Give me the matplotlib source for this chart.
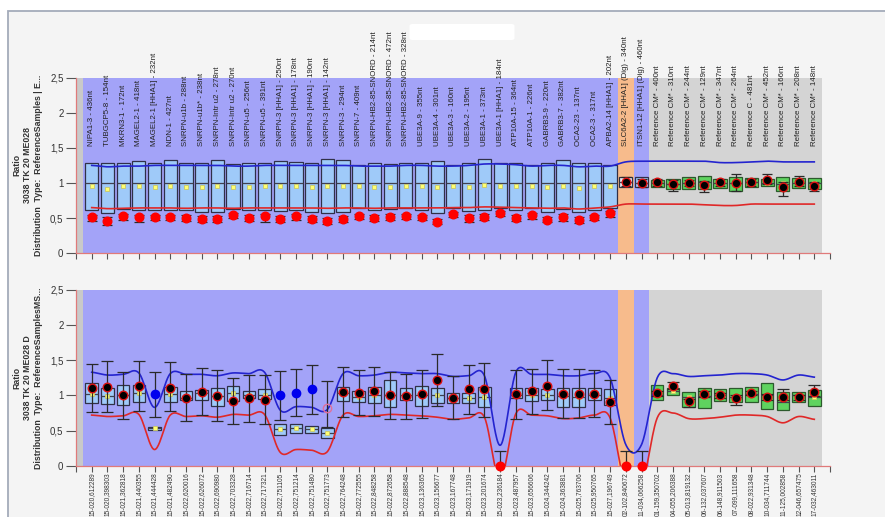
import numpy as np
import matplotlib
matplotlib.use("Agg")
import matplotlib.pyplot as plt
from matplotlib.patches import Rectangle, FancyBboxPatch

plt.rcParams['font.family'] = ['Liberation Sans', 'DejaVu Sans']

# ---------------- data ----------------
probe_names = [
    "NIPA1-3 - 436nt", "TUBGCP5-8 - 154nt", "MKRN3-1 - 172nt", "MAGEL2-1 - 418nt",
    "MAGEL2-1 [HHA1] - 232nt", "NDN-1 - 427nt", "SNRPN-u1b - 288nt", "SNRPN-u1b* - 238nt",
    "SNRPN-Intr u2 - 278nt", "SNRPN-Intr u2 - 270nt", "SNRPN-u5 - 256nt", "SNRPN-u5 - 391nt",
    "SNRPN-3 [HHA1] - 250nt", "SNRPN-3 [HHA1] - 178nt", "SNRPN-3 [HHA1] - 190nt",
    "SNRPN-3 [HHA1] - 142nt", "SNRPN-3 - 294nt", "SNRPN-7 - 409nt",
    "SNRPN-HB2-85-SNORD - 214nt", "SNRPN-HB2-85-SNORD - 472nt", "SNRPN-HB2-85-SNORD - 328nt",
    "UBE3A-9 - 355nt", "UBE3A-4 - 301nt", "UBE3A-3 - 160nt", "UBE3A-2 - 195nt",
    "UBE3A-1 - 373nt", "UBE3A-1 [HHA1] - 184nt", "ATP10A-15 - 364nt", "ATP10A-1 - 226nt",
    "GABRB3-9 - 220nt", "GABRB3-7 - 382nt", "OCA2-23 - 137nt", "OCA2-3 - 317nt",
    "APBA2-14 [HHA1] - 202nt", "SLC6A2-2 [HHA1] (Dig) - 340nt", "ITSN1-12 [HHA1] (Dig) - 460nt",
    "Reference CM* - 400nt", "Reference CM* - 310nt", "Reference CM* - 244nt",
    "Reference CM* - 129nt", "Reference CM* - 347nt", "Reference CM* - 264nt",
    "Reference C - 481nt", "Reference CM* - 452nt", "Reference CM* - 166nt",
    "Reference CM* - 208nt", "Reference CM* - 148nt",
]

positions = [
    "15-020,612289", "15-020,398303", "15-021,362818", "15-021,440355", "15-021,444428",
    "15-021,482490", "15-022,620016", "15-022,626072", "15-022,690980", "15-022,703328",
    "15-022,716714", "15-022,717321", "15-022,751105", "15-022,751214", "15-022,751480",
    "15-022,751773", "15-022,764248", "15-022,772555", "15-022,848258", "15-022,872658",
    "15-022,888548", "15-023,136365", "15-023,156677", "15-023,167748", "15-023,171919",
    "15-023,201674", "15-023,236184", "15-023,487957", "15-023,656606", "15-024,344242",
    "15-024,363881", "15-025,763706", "15-025,950765", "15-027,196749", "02-102,840672",
    "11-034,066258", "01-159,350702", "04-055,206388", "05-013,819132", "06-132,037607",
    "06-148,911503", "07-099,111658", "08-022,931348", "10-034,711744", "11-125,002858",
    "12-046,657475", "17-032,463011",
]

# top chart (methylation, digested)
top_box_hi = [1.29, 1.29, 1.29, 1.31, 1.28, 1.32, 1.29, 1.29, 1.32, 1.27, 1.28, 1.29, 1.31, 1.30,
              1.29, 1.34, 1.32, 1.26, 1.29, 1.27, 1.28, 1.29, 1.31, 1.25, 1.28, 1.34, 1.28, 1.29,
              1.26, 1.29, 1.32, 1.28, 1.29, 1.26, 1.08, 1.09, 1.04, 1.06, 1.08, 1.10, 1.06, 1.08,
              1.07, 1.06, 1.08, 1.07, 1.07]
top_box_lo = [0.62, 0.57, 0.63, 0.62, 0.62, 0.62, 0.61, 0.59, 0.59, 0.63, 0.62, 0.62, 0.60, 0.62,
              0.59, 0.58, 0.59, 0.64, 0.62, 0.63, 0.64, 0.61, 0.57, 0.64, 0.60, 0.62, 0.64, 0.62,
              0.64, 0.59, 0.63, 0.59, 0.62, 0.64, 0.94, 0.94, 0.94, 0.92, 0.92, 0.91, 0.93, 0.89,
              0.94, 0.95, 0.89, 0.93, 0.91]
top_box_med = [1.00] * 34 + [1.01, 1.00, 1.00, 0.99, 1.00, 1.01, 1.00, 1.00, 1.01, 1.00, 0.98, 1.00, 1.00]
top_mean = [0.95, 0.92, 0.96, 0.96, 0.94, 0.96, 0.94, 0.94, 0.95, 0.94, 0.94, 0.96, 0.95, 0.96,
            0.94, 0.96, 0.95, 0.95, 0.94, 0.94, 0.95, 0.95, 0.94, 0.95, 0.94, 0.97, 0.96, 0.95,
            0.95, 0.94, 0.96, 0.93, 0.95, 0.96, 1.00, 1.00, 1.00, 0.99, 1.00, 1.00, 1.00, 1.00,
            1.00, 1.00, 1.00, 1.00, 1.00]
top_val = [0.51, 0.46, 0.53, 0.51, 0.52, 0.51, 0.50, 0.49, 0.49, 0.54, 0.50, 0.53, 0.49, 0.53,
           0.49, 0.46, 0.49, 0.53, 0.50, 0.52, 0.53, 0.52, 0.45, 0.56, 0.50, 0.52, 0.57, 0.50,
           0.54, 0.48, 0.52, 0.48, 0.52, 0.57, 1.02, 1.00, 1.01, 0.98, 1.00, 0.97, 1.01, 1.00,
           1.01, 1.04, 0.94, 1.02, 0.95]
top_err_hi = [0.55, 0.51, 0.56, 0.55, 0.55, 0.55, 0.54, 0.53, 0.53, 0.57, 0.54, 0.56, 0.53, 0.56,
              0.53, 0.50, 0.53, 0.56, 0.54, 0.56, 0.56, 0.55, 0.49, 0.59, 0.54, 0.56, 0.60, 0.54,
              0.57, 0.52, 0.56, 0.52, 0.55, 0.60, 1.09, 1.05, 1.06, 1.04, 1.04, 1.03, 1.05, 1.13,
              1.05, 1.13, 1.02, 1.10, 1.01]
top_err_lo = [0.46, 0.40, 0.48, 0.44, 0.47, 0.47, 0.46, 0.44, 0.44, 0.50, 0.46, 0.44, 0.45, 0.48,
              0.44, 0.42, 0.45, 0.49, 0.46, 0.48, 0.49, 0.48, 0.42, 0.52, 0.44, 0.47, 0.53, 0.46,
              0.49, 0.44, 0.46, 0.43, 0.47, 0.52, 0.95, 0.94, 0.95, 0.88, 0.95, 0.87, 0.96, 0.88,
              0.96, 0.98, 0.82, 0.96, 0.89]
top_upper = [1.25, 1.23, 1.24, 1.24, 1.25, 1.25, 1.25, 1.25, 1.25, 1.24, 1.24, 1.25, 1.25, 1.25,
             1.25, 1.25, 1.25, 1.24, 1.24, 1.24, 1.25, 1.25, 1.24, 1.24, 1.25, 1.27, 1.27, 1.26,
             1.24, 1.25, 1.25, 1.23, 1.24, 1.24, 1.30, 1.31, 1.31, 1.31, 1.31, 1.31, 1.29, 1.29,
             1.30, 1.31, 1.30, 1.30, 1.30]
top_lower = [0.65, 0.635, 0.64, 0.645, 0.645, 0.645, 0.64, 0.645, 0.645, 0.64, 0.645, 0.645, 0.645,
             0.645, 0.645, 0.64, 0.645, 0.645, 0.64, 0.645, 0.645, 0.645, 0.645, 0.65, 0.65, 0.66,
             0.655, 0.65, 0.645, 0.64, 0.645, 0.63, 0.645, 0.66, 0.70, 0.70, 0.70, 0.70, 0.70,
             0.69, 0.68, 0.68, 0.70, 0.70, 0.70, 0.70, 0.70]
top_status = ["loss"] * 34 + ["normal"] * 13

# bottom chart (copy number, undigested)
nan = float("nan")
bot_box_hi = [1.17, 1.10, 1.15, 1.15, 0.555, 1.12, 1.07, 1.08, 1.11, 1.13, 1.07, 1.09, 0.59, 0.59,
              0.57, 0.53, 1.12, 1.06, 1.12, 1.22, 1.10, 1.14, 1.10, 1.03, 1.03, 1.12, nan, 1.10,
              1.11, 1.09, 1.10, 1.10, 1.10, 1.09, nan, nan, 1.15, 1.10, 1.05, 1.11, 1.09, 1.10,
              1.12, 1.17, 1.05, 1.05, 1.08]
bot_box_lo = [0.89, 0.88, 0.86, 0.91, 0.51, 0.90, 0.93, 0.94, 0.85, 0.92, 0.97, 0.95, 0.43, 0.46,
              0.47, 0.39, 0.92, 0.91, 0.89, 0.83, 0.94, 0.85, 0.89, 0.89, 0.89, 0.83, nan, 0.96,
              0.92, 0.93, 0.84, 0.84, 0.93, 0.86, nan, nan, 0.94, 1.01, 0.84, 0.82, 0.92, 0.91,
              0.90, 0.80, 0.79, 0.91, 0.85]
bot_box_med = [1.02, 0.99, 1.00, 1.03, 0.53, 1.02, 0.97, 1.03, 0.99, 1.03, 1.01, 1.01, 0.52, 0.53,
               0.52, 0.46, 1.04, 0.98, 1.01, 1.01, 1.00, 1.01, 1.01, 0.97, 0.96, 0.98, nan, 1.01,
               1.01, 1.01, 0.99, 0.98, 1.00, 0.96, nan, nan, 1.01, 1.06, 0.98, 0.99, 1.00, 0.98,
               1.02, 1.00, 0.90, 1.00, 0.98]
bot_mean = [1.02, 0.99, 1.00, 1.03, 0.53, 1.02, 0.98, 1.03, 0.99, 1.03, 1.01, 1.01, 0.52, 0.53,
            0.52, 0.46, 1.04, 0.98, 1.01, 1.01, 1.00, 1.01, 1.01, 0.97, 0.96, 0.98, nan, 1.01,
            1.01, 1.01, 0.99, 0.98, 1.00, 0.96, nan, nan, 1.01, 1.06, 0.98, 0.99, 1.00, 0.98,
            1.02, 1.00, 0.95, 1.00, 0.98]
bot_val = [1.11, 1.12, 1.00, 1.14, 1.02, 1.11, 0.97, 1.05, 0.99, 0.92, 0.96, 0.94, 1.00, 1.04,
           1.09, 0.82, 1.05, 1.04, 1.07, 1.01, 0.99, 1.02, 1.22, 0.97, 1.09, 1.09, 0.00, 1.02,
           1.06, 1.14, 1.02, 1.02, 1.02, 0.91, 0.00, 0.00, 1.03, 1.14, 0.92, 1.02, 1.01, 0.96,
           1.03, 0.98, 0.98, 0.98, 1.05]
bot_err_hi = [1.45, 1.49, 1.33, 1.49, 1.34, 1.47, 1.31, 1.39, 1.36, 1.25, 1.29, 1.29, 1.35, 1.38,
              1.43, 1.20, 1.41, 1.36, 1.41, 1.33, 1.31, 1.36, 1.59, 1.27, 1.43, 1.46, 0.21, 1.36,
              1.37, 1.50, 1.38, 1.38, 1.36, 1.22, 0.21, 0.21, 1.06, 1.19, 0.95, 1.06, 1.04, 1.00,
              1.06, 1.02, 1.09, 1.01, 1.15]
bot_err_lo = [0.77, 0.76, 0.66, 0.78, 0.69, 0.78, 0.63, 0.72, 0.63, 0.60, 0.62, 0.60, 0.65, 0.71,
              0.73, 0.55, 0.69, 0.72, 0.71, 0.67, 0.67, 0.68, 0.85, 0.67, 0.74, 0.70, 0.00, 0.66,
              0.74, 0.79, 0.68, 0.68, 0.70, 0.60, 0.00, 0.00, 0.99, 1.09, 0.84, 0.98, 0.97, 0.86,
              1.00, 0.94, 0.93, 0.94, 0.99]
bot_upper = [1.33, 1.29, 1.30, 1.32, 0.83, 1.31, 1.30, 1.30, 1.28, 1.32, 1.31, 1.33, 0.79, 0.84,
             0.83, 0.80, 1.31, 1.28, 1.29, 1.33, 1.32, 1.31, 1.31, 1.27, 1.28, 1.28, 0.29, 1.33,
             1.30, 1.30, 1.28, 1.28, 1.31, 1.25, 0.30, 0.30, 1.25, 1.31, 1.27, 1.28, 1.29, 1.31,
             1.31, 1.29, 1.22, 1.29, 1.26]
bot_lower = [0.72, 0.70, 0.71, 0.73, 0.23, 0.72, 0.70, 0.71, 0.69, 0.73, 0.72, 0.73, 0.19, 0.23,
             0.22, 0.20, 0.72, 0.70, 0.71, 0.73, 0.72, 0.71, 0.69, 0.66, 0.68, 0.69, -0.20, 0.74,
             0.72, 0.71, 0.67, 0.68, 0.72, 0.68, -0.30, -0.30, 0.68, 0.75, 0.67, 0.67, 0.69, 0.72,
             0.72, 0.70, 0.61, 0.70, 0.66]
bot_status = (["normal"] * 4 + ["gain"] + ["normal"] * 7 + ["gain"] * 3 + ["open"] + ["normal"] * 10
              + ["loss"] + ["normal"] * 7 + ["loss", "loss"] + ["normal"] * 11)

y_ticks = [0, 0.5, 1, 1.5, 2, 2.5]
y_tick_labels = ["0", "0,5", "1", "1,5", "2", "2,5"]

top_ylabel = "Ratio\n3038 TK 20 ME028\nDistribution  Type:  ReferenceSamples | E..."
bot_ylabel = "Ratio\n3038 TK 20 ME028 D\nDistribution  Type:  ReferenceSamplesMS..."

# ---------------- helpers ----------------
def cardinal_spline(y, n=24):
    """Catmull-Rom (cardinal, tension 0.5) curve through the points."""
    y = np.asarray(y, float)
    N = len(y)
    m = np.zeros(N)
    m[1:-1] = (y[2:] - y[:-2]) / 2.0
    m[0] = (y[1] - y[0]) / 2.0
    m[-1] = (y[-1] - y[-2]) / 2.0
    xs = np.linspace(0, N - 1, (N - 1) * n + 1)
    i = np.minimum(np.floor(xs).astype(int), N - 2)
    t = xs - i
    h00 = 2 * t ** 3 - 3 * t ** 2 + 1
    h10 = t ** 3 - 2 * t ** 2 + t
    h01 = -2 * t ** 3 + 3 * t ** 2
    h11 = t ** 3 - t ** 2
    s = h00 * y[i] + h10 * m[i] + h01 * y[i + 1] + h11 * m[i + 1]
    return xs, s


W, H = 885, 517
fig = plt.figure(figsize=(W / 100, H / 100), dpi=100)
fig.patch.set_facecolor("white")
fig.add_artist(Rectangle((7.5 / W, -0.02), 1.0, 1 - 10.5 / H + 0.02, transform=fig.transFigure,
                         facecolor="#f4f4f4", edgecolor="#a4abba", lw=1.3, zorder=-20))

ax_left = 76 / W
ax_w = (830 - 76) / W
ax_top = fig.add_axes([ax_left, 1 - 253.3 / H, ax_w, (253.3 - 77.5) / H])
ax_bot = fig.add_axes([ax_left, 1 - 465.7 / H, ax_w, (465.7 - 290) / H])

N = len(probe_names)
x = np.arange(N)

BLUE_BG = "#a3a3f8"
ORANGE_BG = "#f7bb8c"
GRAY_BG = "#d4d4d4"


def style_axes(ax, ylabel, ylabel_y):
    ax.set_facecolor("none")
    ax.set_xlim(-1, 47)
    ax.set_ylim(0, 2.5)
    ax.axvspan(-1, -0.55, color="#c9c9c9", lw=0, zorder=0)
    ax.axvspan(-0.55, 33.5, color=BLUE_BG, lw=0, zorder=0)
    ax.axvspan(33.5, 34.5, color=ORANGE_BG, lw=0, zorder=0)
    ax.axvspan(34.5, 35.5, color=BLUE_BG, lw=0, zorder=0)
    ax.axvspan(35.5, 46.5, color=GRAY_BG, lw=0, zorder=0)
    for s in ("top", "right"):
        ax.spines[s].set_visible(False)
    for s in ("left", "bottom"):
        ax.spines[s].set_color("#e07a7a")
        ax.spines[s].set_linewidth(0.9)
        ax.spines[s].set_zorder(6)
    ax.set_yticks(y_ticks)
    ax.set_yticklabels(y_tick_labels)
    ax.set_xticks(np.arange(-1, 48))
    ax.tick_params(axis="y", direction="out", length=7, width=0.8, color="#555555",
                   labelsize=7, labelcolor="#333333", pad=2)
    ax.tick_params(axis="x", direction="out", length=4, width=0.8, color="#555555", pad=1.0)
    fig.text(28 / W, ylabel_y, ylabel, rotation=90, ha="center", va="center",
             multialignment="center", fontsize=6.3, fontweight="bold", color="#333333",
             linespacing=1.25)


def draw_chart(ax, box_hi, box_lo, box_med, mean, val, err_hi, err_lo, upper, lower, status,
               width, capsize):
    box_hi = np.array(box_hi, float)
    box_lo = np.array(box_lo, float)
    box_med = np.array(box_med, float)
    mean = np.array(mean, float)
    val = np.array(val, float)
    for i in range(N):
        if np.isnan(box_hi[i]):
            continue
        if i >= 36:
            fc, ec = "#5fd35f", "#2c5a2c"
        elif i == 34:
            fc, ec = "#ececf2", "#303040"
        else:
            fc, ec = "#9fcaf9", "#303048"
        ax.bar(x[i], box_hi[i] - box_lo[i], bottom=box_lo[i], width=width, color=fc,
               edgecolor=ec, lw=0.9, zorder=2)
        ax.hlines(box_med[i], x[i] - width / 2, x[i] + width / 2, color="#404050", lw=0.9, zorder=3)
    ax.plot(x, mean, ls="none", marker="s", ms=3.2, mfc="#ffff70", mec="#c8c86a", mew=0.6, zorder=3)

    xs, su = cardinal_spline(upper)
    xs, sl = cardinal_spline(lower)
    ax.plot(xs, su, color="#2424cf", lw=1.2, zorder=4)
    ax.plot(xs, sl, color="#e02828", lw=1.2, zorder=4)

    ax.errorbar(x, val, yerr=[val - np.array(err_lo), np.array(err_hi) - val],
                fmt="none", ecolor="#2a2a2a", elinewidth=0.9, capsize=capsize,
                capthick=0.9, zorder=5)
    for i in range(N):
        st = status[i]
        if st == "loss":
            ax.plot(x[i], val[i], "o", ms=6.2, mfc="#ff0000", mec="#ff0000", zorder=7, clip_on=False)
        elif st == "gain":
            ax.plot(x[i], val[i], "o", ms=6.0, mfc="#0000ee", mec="#0000ee", zorder=7)
        elif st == "open":
            ax.plot(x[i], val[i], "o", ms=6.0, mfc="none", mec="#e0709a", mew=1.0, zorder=7)
        else:
            ax.plot(x[i], val[i], "o", ms=6.2, mfc="#000000", mec="#dd1111", mew=1.0, zorder=7)


style_axes(ax_top, top_ylabel, 1 - 165.4 / H)
style_axes(ax_bot, bot_ylabel, 1 - 378 / H)

draw_chart(ax_top, top_box_hi, top_box_lo, top_box_med, top_mean, top_val, top_err_hi,
           top_err_lo, top_upper, top_lower, top_status, 0.84, 3.6)
draw_chart(ax_bot, bot_box_hi, bot_box_lo, bot_box_med, bot_mean, bot_val, bot_err_hi,
           bot_err_lo, bot_upper, bot_lower, bot_status, 0.80, 4.2)

# top chart: probe names written inside plot, rotated
ax_top.set_xticklabels([])
for i, name in enumerate(probe_names):
    ax_top.text(x[i], 1.53, name, rotation=90, ha="center", va="bottom", fontsize=5.7,
                color="#222222", clip_on=False, zorder=8)

# bottom chart: positions as tick labels
ax_bot.set_xticklabels([""] + positions + [""], rotation=90, fontsize=4.7, color="#333333")

# white smear at top (as in the reference screenshot)
fig.add_artist(FancyBboxPatch((413 / W, 1 - 38 / H), 98 / W, 12 / H,
                              boxstyle="round,pad=0.004", transform=fig.transFigure,
                              facecolor="white", edgecolor="none", zorder=30))

fig.savefig("out.png", dpi=100, facecolor=fig.get_facecolor())
